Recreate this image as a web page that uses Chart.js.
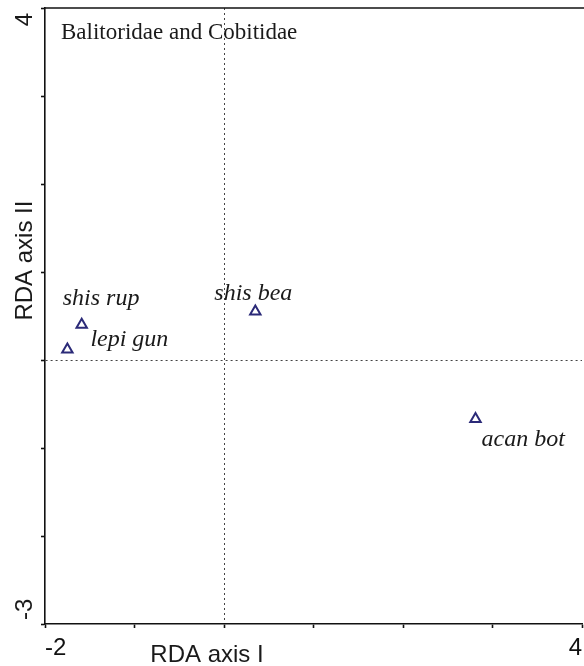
<!DOCTYPE html>
<html>
<head>
<meta charset="utf-8">
<script src="https://cdn.jsdelivr.net/npm/chart.js@4/dist/chart.umd.min.js"></script>
<style>
  html, body { margin: 0; padding: 0; background: #fff; overflow: hidden; }
  #wrap { position: absolute; left: 0; top: 0; width: 590px; height: 666px; }
</style>
</head>
<body>
<div id="wrap"><canvas id="chart" width="590" height="666"></canvas></div>
<script>
//species names and their scores on the two rda axes
let species = ['shis rup', 'lepi gun', 'shis bea', 'acan bot']
let axis1 = [-1.59, -1.75, 0.35, 2.81]
let axis2 = [0.40, 0.12, 0.55, -0.67]

//only the end ticks get a label
let xTickLabels = ['-2', '4']
let yTickLabels = ['-3', '4']

let title = 'Balitoridae and Cobitidae'
let xTitle = 'RDA axis I'
let yTitle = 'RDA axis II'

//where each name sits relative to its triangle (left edge, baseline)
let labelOffsets = [[-19, -20], [23, -3], [-41, -12], [6, 27]]

let serif = '"Liberation Serif", "Times New Roman", serif'
let sans = '"Liberation Sans", Arial, sans-serif'
let markColor = '#2b2a78'

//the points are built from the arrays above
let points = axis1.map((x, i) => ({ x: x, y: axis2[i] }))

//texts that chart.js has no place for: names, titles, y tick labels, top frame
const extras = {
  id: 'extras',
  afterDraw(chart) {
    const ctx = chart.ctx
    const area = chart.chartArea
    const xs = chart.scales.x
    const ys = chart.scales.y
    ctx.save()

    //frame line along the top
    ctx.strokeStyle = '#111'
    ctx.lineWidth = 1.6
    ctx.beginPath()
    ctx.moveTo(area.left, area.top)
    ctx.lineTo(chart.width, area.top)
    ctx.stroke()

    //names next to the triangles
    ctx.fillStyle = '#1a1a1a'
    ctx.font = 'italic 24px ' + serif
    ctx.textAlign = 'left'
    ctx.textBaseline = 'alphabetic'
    chart.getDatasetMeta(0).data.forEach((el, i) => {
      ctx.fillText(species[i], el.x + labelOffsets[i][0], el.y + labelOffsets[i][1])
    })

    //panel title
    ctx.font = '23px ' + serif
    ctx.fillText(title, area.left + 16, area.top + 31)

    //x axis title
    ctx.font = '24px ' + sans
    ctx.textAlign = 'center'
    ctx.fillText(xTitle, xs.getPixelForValue(-0.19), chart.height - 4)

    //y axis title and tick labels, turned
    ctx.save()
    ctx.translate(32, ys.getPixelForValue(1.13))
    ctx.rotate(-Math.PI / 2)
    ctx.fillText(yTitle, 0, 0)
    ctx.restore()

    ctx.save()
    ctx.translate(32, ys.getPixelForValue(-3) - 4)
    ctx.rotate(-Math.PI / 2)
    ctx.textAlign = 'left'
    ctx.fillText(yTickLabels[0], 0, 0)
    ctx.restore()

    ctx.save()
    ctx.translate(32, ys.getPixelForValue(4) + 5)
    ctx.rotate(-Math.PI / 2)
    ctx.textAlign = 'right'
    ctx.fillText(yTickLabels[1], 0, 0)
    ctx.restore()

    ctx.restore()
  }
}

//only the zero line is drawn, dotted
const zeroLine = c => (c.tick && c.tick.value === 0) ? '#444' : 'rgba(0,0,0,0)'

new Chart(document.getElementById('chart'), {
  type: 'scatter',
  data: {
    datasets: [{
      data: points,
      pointStyle: 'triangle',
      pointRadius: 6,
      pointBorderWidth: 2,
      pointBorderColor: markColor,
      pointBackgroundColor: 'rgba(0,0,0,0)'
    }]
  },
  options: {
    responsive: false,
    animation: false,
    layout: { padding: { top: 5, right: 5, left: 1, bottom: 0 } },
    plugins: { legend: { display: false }, tooltip: { enabled: false } },
    scales: {
      x: {
        min: -2,
        max: 4,
        afterFit: s => { s.height = 42 },
        border: { display: true, color: '#111', width: 1.6, dash: [2, 3] },
        grid: { color: zeroLine, lineWidth: 1, tickColor: '#111', tickLength: 4, tickWidth: 1.6 },
        ticks: {
          stepSize: 1,
          align: 'inner',
          padding: 6,
          color: '#111',
          font: { family: sans, size: 24 },
          maxRotation: 0,
          callback: v => xTickLabels.includes(String(v)) ? String(v) : ''
        }
      },
      y: {
        min: -3,
        max: 4,
        afterFit: s => { s.width = 44 },
        border: { display: true, color: '#111', width: 1.6, dash: [2, 3] },
        grid: { color: zeroLine, lineWidth: 1, tickColor: '#111', tickLength: 4, tickWidth: 1.6 },
        ticks: { stepSize: 1, display: false }
      }
    }
  },
  plugins: [extras]
})
</script>
</body>
</html>
